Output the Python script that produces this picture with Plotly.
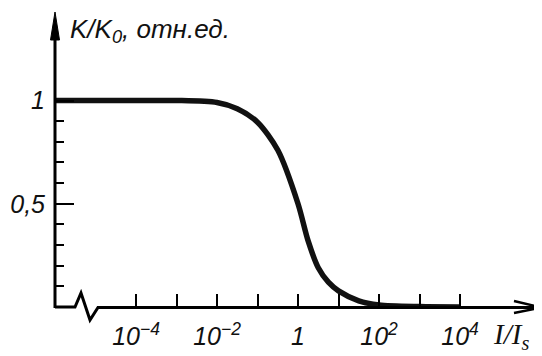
import plotly.graph_objects as go

# Data
intensity = [1e-6, 1e-4, 1e-3, 1e-2, 10**-1.5, 1e-1, 10**-0.5, 1.0,
             10**0.25, 10**0.5, 10**0.75, 10.0, 10**1.5, 1e2, 1e3, 1e4]
gain = [1.0, 1.0, 1.0, 0.99, 0.96, 0.895, 0.76, 0.50,
        0.32, 0.19, 0.12, 0.078, 0.03, 0.01, 0.002, 0.0]

x_major = [1e-4, 1e-2, 1, 1e2, 1e4]
x_major_text = ["<i>10<sup>−4</sup></i>", "<i>10<sup>−2</sup></i>", "<i>1</i>",
                "<i>10<sup>2</sup></i>", "<i>10<sup>4</sup></i>"]
x_minor = [1e-3, 1e-1, 10, 1e3]
y_major = [0.5, 1.0]
y_major_text = ["<i>0,5</i>", "<i>1</i>"]
y_minor = [0.1, 0.2, 0.3, 0.4, 0.6, 0.7, 0.8, 0.9]

# page body has a default 8px margin: lay the figure out in window pixels minus that offset
OFF = 8
W, H = 542 - OFF, 356 - OFF
L, R, T, B = 55 - OFF, 1, 12 - OFF, 49
PW, PH = W - L - R, H - T - B

def px(x):
    return (x - OFF - L) / PW

def py(y):
    return (H - B - (y - OFF)) / PH

FONT = "Liberation Sans Narrow, Liberation Sans, DejaVu Sans"

fig = go.Figure()
fig.add_trace(go.Scatter(
    x=intensity, y=gain, mode="lines",
    line=dict(color="#111111", width=5.5, shape="spline", smoothing=0.8),
    hoverinfo="skip", showlegend=False,
))

xpath = ("M {} {} L {} {} L {} {} L {} {} L {} {} L {} {}").format(
    px(55), py(307), px(75), py(307), px(81), py(293), px(90), py(320),
    px(98), py(307.5), px(540), py(307.5))
arrow_x = "M {} {} L {} {} L {} {}".format(px(514), py(301), px(541), py(307.5), px(514), py(313))
ypath = "M {} {} L {} {}".format(px(55), py(308), px(55), py(30))
arrow_y = "M {} {} L {} {} L {} {} Z".format(px(50.5), py(40), px(55), py(12), px(59.5), py(40))

shapes = [
    dict(type="path", path=xpath, xref="paper", yref="paper", line=dict(color="black", width=3)),
    dict(type="path", path=arrow_x, xref="paper", yref="paper", line=dict(color="black", width=2.5)),
    dict(type="path", path=ypath, xref="paper", yref="paper", line=dict(color="black", width=3)),
    dict(type="path", path=arrow_y, xref="paper", yref="paper", line=dict(color="black", width=1),
         fillcolor="black"),
]

annotations = [
    dict(text="<i>K/K<sub>0</sub>, отн.ед.</i>", xref="paper", yref="paper",
         x=px(68), y=py(30), xanchor="left", yanchor="middle", showarrow=False,
         font=dict(family=FONT, size=26, color="#111")),
    dict(text="<i>I/I<sub>s</sub></i>", xref="paper", yref="paper",
         x=px(511), y=py(336), xanchor="center", yanchor="middle", showarrow=False,
         font=dict(family="Liberation Serif, DejaVu Serif", size=29, color="#111")),
]

fig.update_layout(
    width=W, height=H, margin=dict(l=L, r=R, t=T, b=B, autoexpand=False),
    paper_bgcolor="white", plot_bgcolor="white",
    shapes=shapes, annotations=annotations,
    font=dict(family=FONT, size=24, color="#111"),
)
fig.update_xaxes(
    type="log", range=[-6, -6 + PW / 40.5], automargin=False,
    showgrid=False, zeroline=False, showline=False,
    tickvals=x_major, ticktext=x_major_text,
    ticks="inside", ticklen=13, tickwidth=2, tickcolor="black",
    minor=dict(tickvals=x_minor, ticks="inside", ticklen=13, tickwidth=2, tickcolor="black"),
    tickfont=dict(family=FONT, size=25), ticklabelstandoff=12,
)
fig.update_yaxes(
    range=[0, PH / 206.5], automargin=False,
    showgrid=False, zeroline=False, showline=False,
    tickvals=y_major, ticktext=y_major_text,
    ticks="inside", ticklen=19, tickwidth=2, tickcolor="black",
    minor=dict(tickvals=y_minor, ticks="inside", ticklen=9, tickwidth=2, tickcolor="black"),
    tickfont=dict(family=FONT, size=25), ticklabelstandoff=9,
)

fig.write_html("out.html")
